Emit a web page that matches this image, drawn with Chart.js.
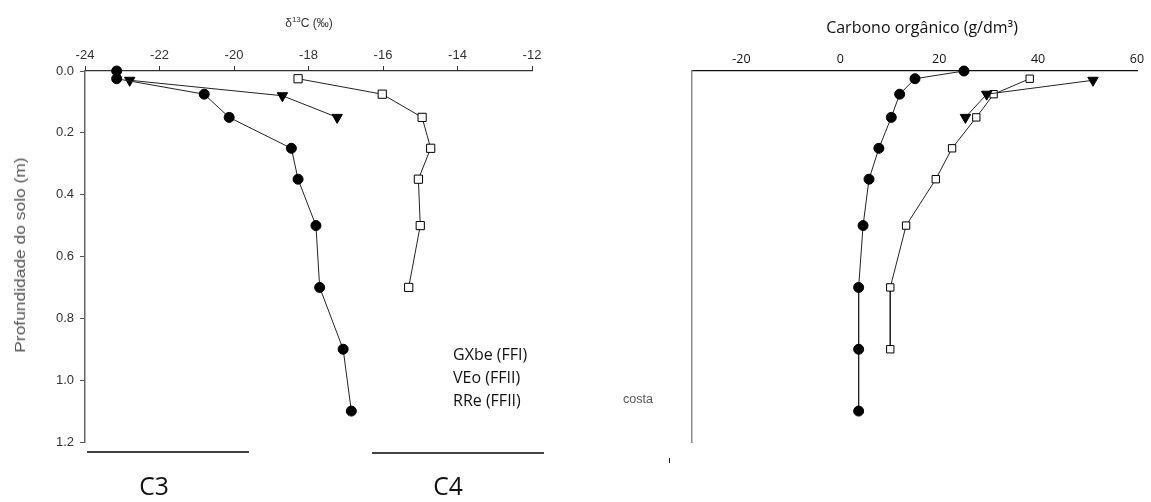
<!DOCTYPE html>
<html>
<head>
<meta charset="utf-8">
<script src="https://cdn.jsdelivr.net/npm/chart.js@4"></script>
<style>
  html, body { margin:0; padding:0; background:#fff; }
  body { width:1151px; height:502px; position:relative; overflow:hidden; font-family:"Liberation Sans", Arial, sans-serif; }
  .box { position:absolute; }
  .t { position:absolute; white-space:nowrap; }
</style>
</head>
<body>
<div class="box" style="left:0;top:0;width:560px;height:502px;"><canvas id="c1"></canvas></div>
<div class="box" style="left:580px;top:0;width:571px;height:502px;"><canvas id="c2"></canvas></div>

<div class="t" style="left:309px;top:22px;transform:translate(-50%,-50%);font-size:12px;color:#333;">δ<sup style="font-size:8px;">13</sup>C (‰)</div>
<div class="t" style="left:20px;top:255px;transform:translate(-50%,-50%) rotate(-90deg) scaleX(1.2);font-size:14.5px;color:#555;">Profundidade do solo (m)</div>
<div class="t" style="left:453px;top:354px;transform:translateY(-50%);font-family:'Open Sans';font-size:16px;color:#111;">GXbe (FFI)</div>
<div class="t" style="left:453px;top:377px;transform:translateY(-50%);font-family:'Open Sans';font-size:16px;color:#111;">VEo (FFII)</div>
<div class="t" style="left:453px;top:400px;transform:translateY(-50%);font-family:'Open Sans';font-size:16px;color:#111;">RRe (FFII)</div>
<div style="position:absolute;left:87px;top:451px;width:162px;height:2px;background:#444;"></div>
<div style="position:absolute;left:372px;top:452px;width:172px;height:2px;background:#444;"></div>
<div class="t" style="left:154px;top:485px;transform:translate(-50%,-50%) scaleX(0.95);font-family:'Open Sans';font-size:26px;color:#111;">C3</div>
<div class="t" style="left:448px;top:485px;transform:translate(-50%,-50%) scaleX(0.95);font-family:'Open Sans';font-size:26px;color:#111;">C4</div>
<div class="t" style="left:922px;top:27px;transform:translate(-50%,-50%);font-family:'Open Sans';font-size:16px;color:#111;">Carbono orgânico (g/dm³)</div>
<div class="t" style="left:623px;top:399px;transform:translateY(-50%);font-size:12.5px;color:#555;">costa</div>
<div style="position:absolute;left:669px;top:458px;width:1px;height:5px;background:#222;"></div>

<script>
// ---- Left panel: δ13C (‰) vs depth (m)
const depthGX = [0.0, 0.025, 0.075, 0.15, 0.25, 0.35, 0.5, 0.7, 0.9, 1.1];
const d13cGX  = [-23.15, -23.15, -20.8, -20.13, -18.46, -18.28, -17.8, -17.7, -17.07, -16.85];
const depthVE = [0.03, 0.08, 0.15];
const d13cVE  = [-22.8, -18.7, -17.23];
const depthRR = [0.025, 0.075, 0.15, 0.25, 0.35, 0.5, 0.7];
const d13cRR  = [-18.28, -16.02, -14.95, -14.72, -15.05, -15.0, -15.31];

// ---- Right panel: Carbono orgânico (g/dm³) vs depth (m)
const depthCGX = [0.0, 0.025, 0.075, 0.15, 0.25, 0.35, 0.5, 0.7, 0.9, 1.1];
const corgGX   = [25, 15.1, 12, 10.3, 7.8, 5.8, 4.6, 3.7, 3.7, 3.7];
const depthCVE = [0.03, 0.075, 0.15];
const corgVE   = [51.1, 29.6, 25.3];
const depthCRR = [0.025, 0.075, 0.15, 0.25, 0.35, 0.5, 0.7, 0.9];
const corgRR   = [38.3, 31.0, 27.5, 22.6, 19.3, 13.3, 10.1, 10.1];

// tick labels
const leftXTicks  = [-24, -22, -20, -18, -16, -14, -12];
const depthTicks  = [0, 0.2, 0.4, 0.6, 0.8, 1.0, 1.2];
const rightXTicks = [-20, 0, 20, 40, 60];

const names = ['GXbe (FFI)', 'VEo (FFII)', 'RRe (FFII)'];

function pts(xs, ys) { return xs.map((x, i) => ({ x: x, y: ys[i] })); }

function ds(label, data, style, fill, radius, rot) {
  return {
    label: label, data: data, showLine: true,
    borderColor: '#222', borderWidth: 1,
    pointStyle: style, pointRadius: radius, pointRotation: rot || 0,
    pointBackgroundColor: fill, pointBorderColor: '#000', pointBorderWidth: 1,
    clip: false
  };
}

new Chart(document.getElementById('c1'), {
  type: 'scatter',
  data: { datasets: [
    ds(names[0], pts(d13cGX, depthGX), 'circle', '#000', 5),
    ds(names[1], pts(d13cVE, depthVE), 'triangle', '#000', 6, 180),
    ds(names[2], pts(d13cRR, depthRR), 'rect', '#fff', 5.8)
  ]},
  options: {
    responsive: true, maintainAspectRatio: false, animation: false, events: [],
    layout: { padding: { left: 0, top: 0, right: 28, bottom: 60 } },
    plugins: { legend: { display: false }, tooltip: { enabled: false } },
    scales: {
      x: {
        type: 'linear', position: 'top', min: -24, max: -12,
        afterBuildTicks: s => { s.ticks = leftXTicks.map(v => ({ value: v })); },
        afterFit: s => { s.height = 71; },
        grid: { drawOnChartArea: false, drawTicks: true, tickLength: 5, color: '#333' },
        border: { display: true, color: '#333', width: 1.2 },
        ticks: { color: '#333', font: { family: 'Liberation Sans', size: 13 }, padding: 3, maxRotation: 0 }
      },
      y: {
        type: 'linear', position: 'left', min: 0, max: 1.2, reverse: true,
        afterBuildTicks: s => { s.ticks = depthTicks.map(v => ({ value: v })); },
        afterFit: s => { s.width = 85; },
        grid: { drawOnChartArea: false, drawTicks: true, tickLength: 5, color: '#555' },
        border: { display: true, color: '#666', width: 1.5 },
        ticks: { color: '#333', font: { family: 'Liberation Sans', size: 13 }, padding: 6,
                 callback: v => Number(v).toFixed(1) }
      }
    }
  }
});

new Chart(document.getElementById('c2'), {
  type: 'scatter',
  data: { datasets: [
    ds(names[0], pts(corgGX, depthCGX), 'circle', '#000', 5),
    ds(names[1], pts(corgVE, depthCVE), 'triangle', '#000', 6, 180),
    ds(names[2], pts(corgRR, depthCRR), 'rect', '#fff', 5.2)
  ]},
  options: {
    responsive: true, maintainAspectRatio: false, animation: false, events: [],
    layout: { padding: { left: 0, top: 0, right: 14, bottom: 60 } },
    plugins: { legend: { display: false }, tooltip: { enabled: false } },
    scales: {
      x: {
        type: 'linear', position: 'top', min: -30, max: 60,
        afterBuildTicks: s => { s.ticks = rightXTicks.map(v => ({ value: v })); },
        afterFit: s => { s.height = 71; },
        grid: { drawOnChartArea: false, drawTicks: false },
        border: { display: true, color: '#111', width: 1.2 },
        ticks: { color: '#111', font: { family: 'Open Sans', size: 12.5 }, padding: 4, maxRotation: 0 }
      },
      y: {
        type: 'linear', position: 'left', min: 0, max: 1.2, reverse: true,
        afterFit: s => { s.width = 112; },
        grid: { drawOnChartArea: false, drawTicks: false },
        border: { display: true, color: '#888', width: 1.5 },
        ticks: { display: false }
      }
    }
  }
});
</script>
</body>
</html>
